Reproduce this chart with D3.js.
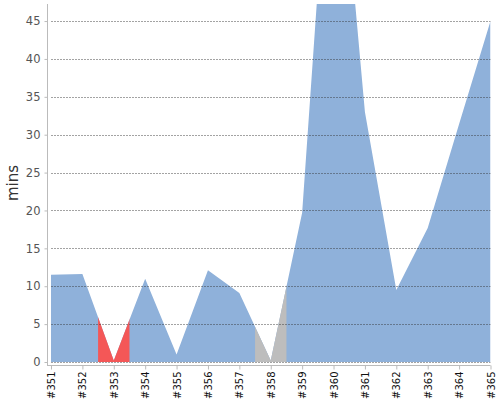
<!DOCTYPE html>
<html>
<head>
<meta charset="utf-8">
<script src="https://cdn.jsdelivr.net/npm/d3@7"></script>
<style>
  body { margin: 0; background: #fff; }
  svg, svg text { font-family: "DejaVu Sans", sans-serif; }
</style>
</head>
<body>
<svg width="500" height="400"></svg>
<script>
// build numbers
var builds = [351, 352, 353, 354, 355, 356, 357, 358, 359, 360, 361, 362, 363, 364, 365];
// duration in minutes
var mins = [11.5, 11.6, 0.2, 11.0, 1.0, 12.1, 9.1, 0.2, 19.7, 79, 33, 9.5, 17.7, 31.4, 45];
// build result
var results = ['ok', 'ok', 'failed', 'ok', 'ok', 'ok', 'ok', 'aborted', 'ok', 'ok', 'ok', 'ok', 'ok', 'ok', 'ok'];
var yTicks = [0, 5, 10, 15, 20, 25, 30, 35, 40, 45];

var cols = { ok: '#8fb1da', failed: '#f45757', aborted: '#bdbdbd' };

var svg = d3.select('svg');
var pLeft = 51, pRight = 490.5, pTop = 4, pBottom = 362;

var x = d3.scaleLinear().domain([351, 365]).range([pLeft, pRight]);
var y = d3.scaleLinear().domain([0, 47.25]).range([pBottom, pTop]);
var step = x(352) - x(351);

var data = builds.map(function (b, i) { return { b: b, v: mins[i], s: results[i] }; });

var area = d3.area()
  .x(function (d) { return x(d.b); })
  .y0(pBottom)
  .y1(function (d) { return y(d.v); });

var defs = svg.append('defs');
defs.append('clipPath').attr('id', 'plot')
  .append('rect').attr('x', pLeft).attr('y', pTop)
  .attr('width', pRight - pLeft).attr('height', pBottom - pTop);

var g = svg.append('g').attr('clip-path', 'url(#plot)');
g.append('path').datum(data).attr('d', area).attr('fill', cols.ok);

// colour the half-step band either side of a failed / aborted build
data.forEach(function (d, i) {
  if (d.s == 'ok') return;
  var id = 'band' + i;
  defs.append('clipPath').attr('id', id)
    .append('rect')
    .attr('x', x(d.b) - step / 2).attr('y', pTop)
    .attr('width', step).attr('height', pBottom - pTop);
  g.append('g').attr('clip-path', 'url(#' + id + ')')
    .append('path').datum(data).attr('d', area).attr('fill', cols[d.s]);
});

// dashed grid on top of the area
svg.append('g').selectAll('line').data(yTicks).enter().append('line')
  .attr('x1', pLeft).attr('x2', pRight)
  .attr('y1', function (d) { return Math.round(y(d)) + 0.5; })
  .attr('y2', function (d) { return Math.round(y(d)) + 0.5; })
  .attr('stroke', '#333')
  .attr('stroke-opacity', 0.45)
  .attr('stroke-dasharray', '2,1');

// y axis
var yAxis = svg.append('g').attr('transform', 'translate(47.5,0)')
  .call(d3.axisLeft(y).tickValues(yTicks).tickSize(3).tickPadding(4));
yAxis.attr('font-family', 'DejaVu Sans');
yAxis.select('.domain').attr('stroke', '#bbb').attr('d', 'M0,' + pTop + 'V' + (pBottom + 3));
yAxis.selectAll('.tick line').attr('stroke', '#bbb');
yAxis.selectAll('text').attr('fill', '#555').style('font-size', '11.5px');

// x axis
var xAxis = svg.append('g').attr('transform', 'translate(0,365.5)')
  .call(d3.axisBottom(x).tickValues(builds).tickSize(4).tickFormat(function (d) { return '#' + d; }));
xAxis.attr('font-family', 'DejaVu Sans');
xAxis.select('.domain').attr('stroke', '#bbb').attr('d', 'M' + (pLeft - 4) + ',0H' + pRight);
xAxis.selectAll('.tick line').attr('stroke', '#bbb');
xAxis.selectAll('text')
  .attr('fill', '#111')
  .style('font-size', '10px')
  .attr('text-anchor', 'end')
  .attr('transform', 'rotate(-90)')
  .attr('x', -6).attr('y', 0).attr('dy', '0.35em');

svg.append('text')
  .attr('transform', 'translate(18,183) rotate(-90)')
  .attr('text-anchor', 'middle')
  .attr('fill', '#333')
  .style('font-size', '15px')
  .text('mins');
</script>
</body>
</html>
